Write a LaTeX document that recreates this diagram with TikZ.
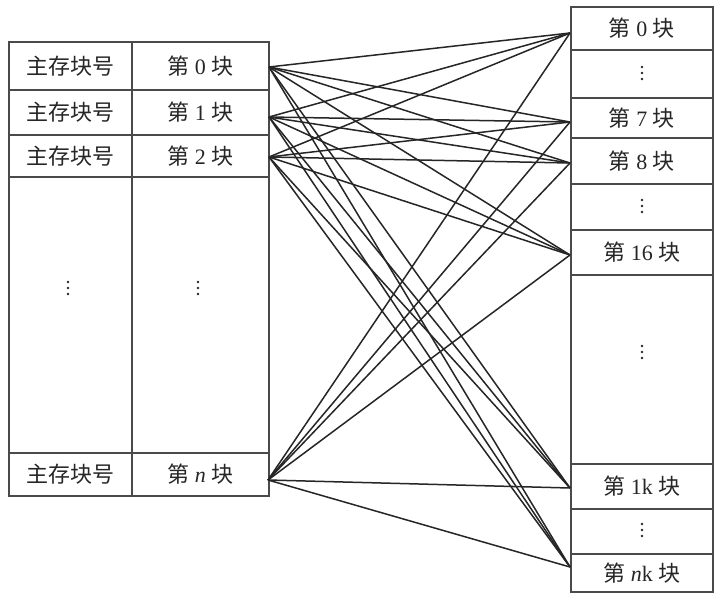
\documentclass[tikz,border=0pt]{standalone}
\usepackage{fontspec}
\setmainfont{Liberation Serif}
\newfontfamily\cjk{Noto Sans CJK SC}
\definecolor{tline}{HTML}{4A4A4A}
\definecolor{ink}{HTML}{262626}
\newcommand{\kuai}[1]{{\cjk 第}\ #1\ {\cjk 块}}
\begin{document}
\begin{tikzpicture}[x=1pt,y=-1pt,
  cell/.style={draw=tline, line width=1.7pt, rectangle, inner sep=0pt, anchor=north west,
    font=\fontsize{22}{24}\selectfont, text=ink},
  conn/.style={draw=ink, line width=1.5pt},
  dot/.style={fill=ink, draw=none}]
\useasboundingbox (0,0) rectangle (718,603);
\fill[white] (0,0) rectangle (718,603);
% left table
\node[cell, minimum width=123pt, minimum height=48pt] (t0) at (8,41) {\cjk 主存块号};
\node[cell, minimum width=137pt, minimum height=48pt] (d0) at (131,41) {\kuai{0}};
\node[cell, minimum width=123pt, minimum height=45pt] (t1) at (8,89) {\cjk 主存块号};
\node[cell, minimum width=137pt, minimum height=45pt] (d1) at (131,89) {\kuai{1}};
\node[cell, minimum width=123pt, minimum height=42pt] (t2) at (8,134) {\cjk 主存块号};
\node[cell, minimum width=137pt, minimum height=42pt] (d2) at (131,134) {\kuai{2}};
\node[cell, minimum width=123pt, minimum height=276pt] (tx) at (8,176) {};
\node[cell, minimum width=137pt, minimum height=276pt] (dx) at (131,176) {};
\node[cell, minimum width=123pt, minimum height=43pt] (tn) at (8,452) {\cjk 主存块号};
\node[cell, minimum width=137pt, minimum height=43pt] (dn) at (131,452) {\kuai{\textit{n}}};
% right table
\node[cell, minimum width=142pt, minimum height=43pt] (m0) at (570,6) {\kuai{0}};
\node[cell, minimum width=142pt, minimum height=48pt] (ma) at (570,49) {};
\node[cell, minimum width=142pt, minimum height=40pt] (m7) at (570,97) {\kuai{7}};
\node[cell, minimum width=142pt, minimum height=46pt] (m8) at (570,137) {\kuai{8}};
\node[cell, minimum width=142pt, minimum height=46pt] (mb) at (570,183) {};
\node[cell, minimum width=142pt, minimum height=45pt] (m16) at (570,229) {\kuai{16}};
\node[cell, minimum width=142pt, minimum height=189pt] (mc) at (570,274) {};
\node[cell, minimum width=142pt, minimum height=45pt] (m1k) at (570,463) {\kuai{1k}};
\node[cell, minimum width=142pt, minimum height=45pt] (md) at (570,508) {};
\node[cell, minimum width=142pt, minimum height=38pt] (mnk) at (570,553) {\kuai{\textit{n}k}};
% vertical ellipses
\foreach \x/\y in {68/288, 198/288, 642/73, 642/206, 642/352, 642/530}{
  \foreach \d in {-6,0,6}{
    \fill[dot] (\x,\y+\d) circle (1.3pt);
  }
}
% anchors
\coordinate (L0) at (269,67);
\coordinate (L1) at (269,117);
\coordinate (L2) at (269,157);
\coordinate (Ln) at (268,480);
\coordinate (R0) at (570,33);
\coordinate (R7) at (570,122);
\coordinate (R8) at (570,163);
\coordinate (R16) at (570,255);
\coordinate (R1k) at (570,488);
\coordinate (Rnk) at (570,567);
\foreach \l in {L0,L1,L2,Ln}{
  \foreach \r in {R0,R7,R8,R16,R1k,Rnk}{
    \draw[conn] (\l) -- (\r);
  }
}
\end{tikzpicture}
\end{document}
